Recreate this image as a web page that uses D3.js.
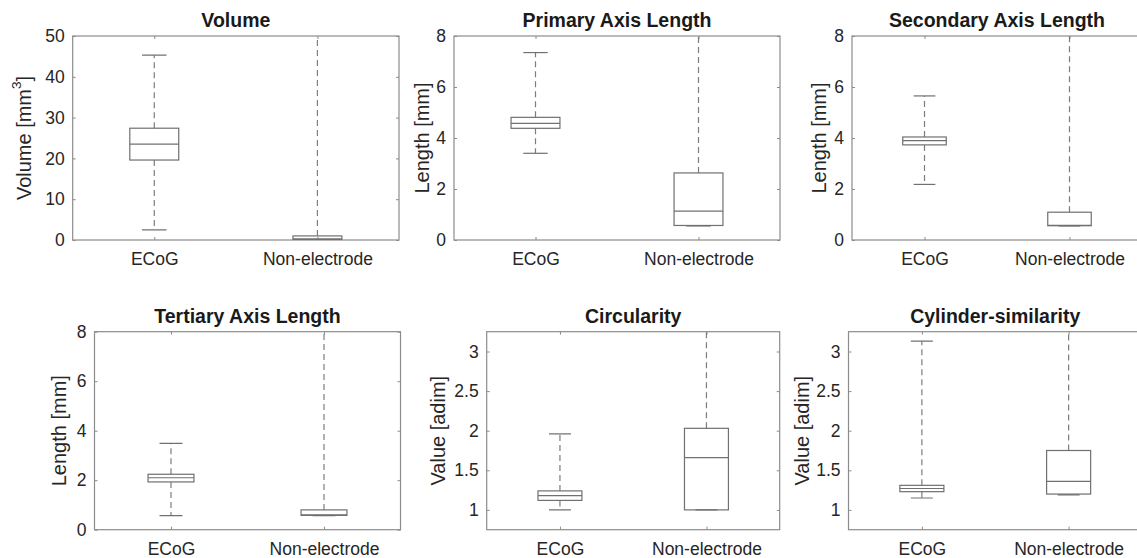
<!DOCTYPE html>
<html>
<head>
<meta charset="utf-8">
<script src="https://cdn.jsdelivr.net/npm/d3@7"></script>
<style>
  body { margin: 0; background: #fff; }
  svg { display: block; font-family: "Liberation Sans", Arial, sans-serif; }
  .tick text { fill: #262626; font-size: 17.5px; }
  .title { font-weight: bold; font-size: 19.5px; fill: #1a1a1a; }
  .ylab { font-size: 20px; fill: #262626; }
</style>
</head>
<body>
<svg id="chart" width="1137" height="558"></svg>
<script>
// Data
var categories = ["ECoG", "Non-electrode"];
var titles = ["Volume", "Primary Axis Length", "Secondary Axis Length",
              "Tertiary Axis Length", "Circularity", "Cylinder-similarity"];
var yLabels = ["Volume [mm", "Length [mm]", "Length [mm]", "Length [mm]", "Value [adim]", "Value [adim]"];
var yDomains = [[0, 50], [0, 8], [0, 8], [0, 8], [0.75, 3.25], [0.75, 3.25]];
var yTicks = [[0, 10, 20, 30, 40, 50], [0, 2, 4, 6, 8], [0, 2, 4, 6, 8], [0, 2, 4, 6, 8],
              [1, 1.5, 2, 2.5, 3], [1, 1.5, 2, 2.5, 3]];

// per panel: [ECoG, Non-electrode]; upper whiskers of Non-electrode run off the top
var lowWhisker  = [[2.5, 0],   [3.4, 0.55],  [2.18, 0.55], [0.57, 0.57], [1.0, 1.0],  [1.15, 1.19]];
var q1          = [[19.6, 0.1], [4.38, 0.57], [3.73, 0.56], [1.93, 0.58], [1.12, 1.0], [1.23, 1.2]];
var median      = [[23.5, 0.3], [4.57, 1.13], [3.9, 0.57],  [2.1, 0.6],   [1.18, 1.66], [1.27, 1.36]];
var q3          = [[27.4, 1.0], [4.81, 2.63], [4.04, 1.09], [2.24, 0.8],  [1.24, 2.03], [1.31, 1.75]];
var highWhisker = [[45.3, 50],  [7.35, 8],    [5.65, 8],    [3.49, 8],    [1.96, 3.25], [3.13, 3.25]];

// panel placement (pixels)
var layout = [
  { left: 72.7, right: 399,   top: 36,    bottom: 240,   ylabX: 24 },
  { left: 454,  right: 780,   top: 36,    bottom: 240,   ylabX: 421.5 },
  { left: 852,  right: 1142,  top: 36,    bottom: 240,   ylabX: 818.5 },
  { left: 94.5, right: 400.5, top: 331.7, bottom: 529.7, ylabX: 58.5 },
  { left: 486.7, right: 779.7, top: 331.7, bottom: 529.7, ylabX: 438 },
  { left: 848.5, right: 1142, top: 331.7, bottom: 529.7, ylabX: 801.5 }
];

var axisColor = "#8c8c8c";
var boxColor = "#707070";
var whiskColor = "#7c7c7c";

var svg = d3.select("#chart");

layout.forEach(function (p, i) {
  var x = d3.scaleLinear().domain([0.5, 2.5]).range([p.left, p.right]);
  var y = d3.scaleLinear().domain(yDomains[i]).range([p.bottom, p.top]);
  var unit = x(2) - x(1);
  var boxW = unit * 0.3;
  var capW = unit * 0.15;
  var yMax = yDomains[i][1];

  var g = svg.append("g");

  var clipId = "clip" + i;
  g.append("clipPath").attr("id", clipId)
    .append("rect")
    .attr("x", p.left).attr("y", p.top)
    .attr("width", p.right - p.left).attr("height", p.bottom - p.top);

  // axes (ticks on all four sides, pointing inward)
  var yl = g.append("g").attr("transform", "translate(" + p.left + ",0)")
    .call(d3.axisLeft(y).tickValues(yTicks[i]).tickSize(-3).tickPadding(8).tickFormat(d3.format("")));
  var yr = g.append("g").attr("transform", "translate(" + p.right + ",0)")
    .call(d3.axisRight(y).tickValues(yTicks[i]).tickSize(-3).tickFormat(""));
  var xb = g.append("g").attr("transform", "translate(0," + p.bottom + ")")
    .call(d3.axisBottom(x).tickValues([1, 2]).tickSize(-3).tickPadding(13)
      .tickFormat(function (d) { return categories[d - 1]; }));
  var xt = g.append("g").attr("transform", "translate(0," + p.top + ")")
    .call(d3.axisTop(x).tickValues([1, 2]).tickSize(-3).tickFormat(""));

  [yl, yr, xb, xt].forEach(function (a) {
    a.select(".domain").remove();
    a.selectAll(".tick line").attr("stroke", axisColor);
    a.selectAll(".tick text").attr("font-family", null).attr("font-size", null);
  });

  g.append("rect")
    .attr("x", p.left).attr("y", p.top)
    .attr("width", p.right - p.left).attr("height", p.bottom - p.top)
    .attr("fill", "none").attr("stroke", axisColor).attr("stroke-width", 1.2);

  // boxes
  var plot = g.append("g").attr("clip-path", "url(#" + clipId + ")");
  categories.forEach(function (c, k) {
    var cx = x(k + 1);
    var b = plot.append("g");
    // whiskers
    b.append("line")
      .attr("x1", cx).attr("x2", cx)
      .attr("y1", y(q3[i][k])).attr("y2", y(highWhisker[i][k]))
      .attr("stroke", whiskColor).attr("stroke-dasharray", "6,4").attr("stroke-width", 1.2);
    b.append("line")
      .attr("x1", cx).attr("x2", cx)
      .attr("y1", y(q1[i][k])).attr("y2", y(lowWhisker[i][k]))
      .attr("stroke", whiskColor).attr("stroke-dasharray", "6,4").attr("stroke-width", 1.2);
    // caps (the ones off the top of the axes are not shown)
    [lowWhisker[i][k], highWhisker[i][k]].forEach(function (v) {
      if (v >= yMax) return;
      b.append("line")
        .attr("x1", cx - capW / 2).attr("x2", cx + capW / 2)
        .attr("y1", y(v)).attr("y2", y(v))
        .attr("stroke", boxColor).attr("stroke-width", 1.2);
    });
    b.append("rect")
      .attr("x", cx - boxW / 2).attr("width", boxW)
      .attr("y", y(q3[i][k])).attr("height", y(q1[i][k]) - y(q3[i][k]))
      .attr("fill", "none").attr("stroke", boxColor).attr("stroke-width", 1.2);
    b.append("line")
      .attr("x1", cx - boxW / 2).attr("x2", cx + boxW / 2)
      .attr("y1", y(median[i][k])).attr("y2", y(median[i][k]))
      .attr("stroke", boxColor).attr("stroke-width", 1.2);
  });

  // title
  g.append("text").attr("class", "title")
    .attr("x", (p.left + p.right) / 2).attr("y", p.top - 9)
    .attr("text-anchor", "middle").text(titles[i]);

  // y label
  var yt = g.append("text").attr("class", "ylab")
    .attr("transform", "translate(" + p.ylabX + "," + ((p.top + p.bottom) / 2) + ") rotate(-90)")
    .attr("text-anchor", "middle").attr("dominant-baseline", "central")
    .text(yLabels[i]);
  if (i === 0) {
    yt.append("tspan").attr("baseline-shift", "super").attr("font-size", "13.5px").text("3");
    yt.append("tspan").text("]");
  }
});
</script>
</body>
</html>
